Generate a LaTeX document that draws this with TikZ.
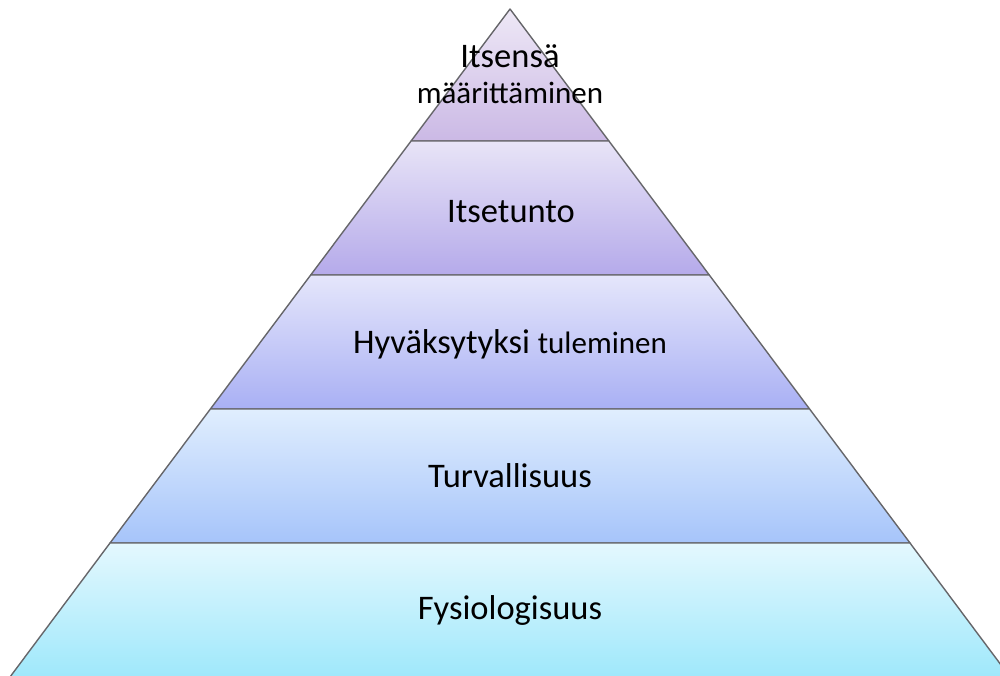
\documentclass[tikz,border=0pt]{standalone}
\usepackage{fontspec}
\setmainfont{Carlito}
\definecolor{l1t}{HTML}{EEE8F6}\definecolor{l1b}{HTML}{CBB9E5}
\definecolor{l2t}{HTML}{E8E4F7}\definecolor{l2b}{HTML}{B5AAEA}
\definecolor{l3t}{HTML}{E5E6FB}\definecolor{l3b}{HTML}{A9B0F4}
\definecolor{l4t}{HTML}{E0EEFE}\definecolor{l4b}{HTML}{A6C4FA}
\definecolor{l5t}{HTML}{E4F8FE}\definecolor{l5b}{HTML}{9FE8FB}
\definecolor{edge}{HTML}{66666A}
\begin{document}
\begin{tikzpicture}[x=1pt,y=-1pt,
  layer/.style={draw=edge,line width=1.4pt,line join=round},
  lbl/.style={text=black,font=\fontsize{34.5}{36}\selectfont,align=center,inner sep=0pt}]
\useasboundingbox (0,0) rectangle (1000,675);
\clip (0,0) rectangle (1000,675);
\coordinate (A) at (510,9);
\shade[layer,top color=l1t,bottom color=l1b] (A) -- (608.9,141) -- (411.1,141) -- cycle;
\shade[layer,top color=l2t,bottom color=l2b] (411.1,141) -- (608.9,141) -- (709.3,275) -- (310.7,275) -- cycle;
\shade[layer,top color=l3t,bottom color=l3b] (310.7,275) -- (709.3,275) -- (809.6,409) -- (210.4,409) -- cycle;
\shade[layer,top color=l4t,bottom color=l4b] (210.4,409) -- (809.6,409) -- (910,543) -- (110,543) -- cycle;
\shade[layer,top color=l5t,bottom color=l5b] (110,543) -- (910,543) -- (1010,677) -- (10,677) -- cycle;
\node[lbl] (t1a) at (510,56) {Itsensä};
\node[lbl,font=\fontsize{31}{33}\selectfont] (t1b) at (510,93) {määrittäminen};
\node[lbl] (t2) at (511,212) {Itsetunto};
\node[lbl] (t3) at (510,344) {Hyväksytyksi {\fontsize{31}{33}\selectfont tuleminen}};
\node[lbl] (t4) at (510,476) {Turvallisuus};
\node[lbl] (t5) at (510,610) {Fysiologisuus};
\end{tikzpicture}
\end{document}
